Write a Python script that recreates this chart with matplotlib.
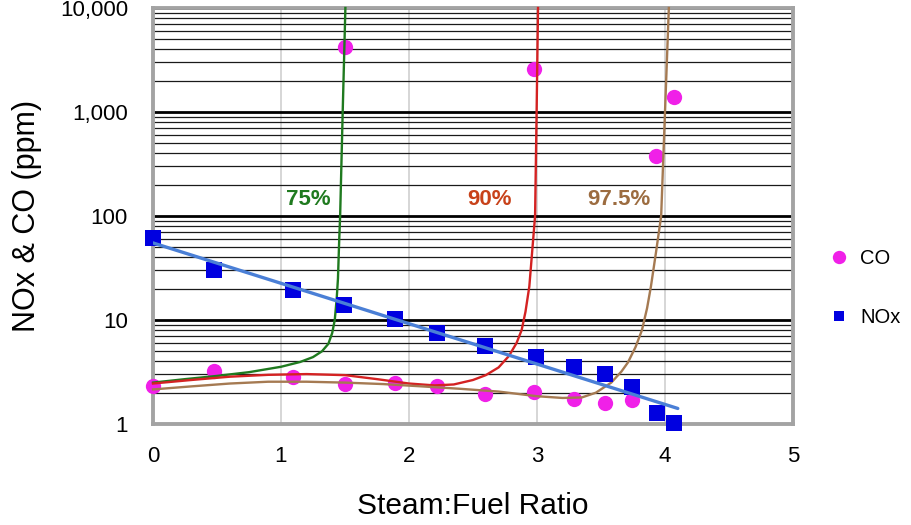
import numpy as np
import matplotlib
matplotlib.use("Agg")
import matplotlib.pyplot as plt
from matplotlib.lines import Line2D
from matplotlib.ticker import FixedLocator, NullFormatter, LogLocator

plt.rcParams['font.family'] = ['Liberation Sans', 'DejaVu Sans']

# ---- data ----
co_x = [0, 0.475, 1.09, 1.5, 1.5, 1.89, 2.22, 2.59, 2.98, 2.98, 3.29, 3.53, 3.74, 3.93, 4.07]
co_y = [2.3, 3.25, 2.85, 2.4, 4200, 2.5, 2.3, 1.95, 2.05, 2600, 1.75, 1.6, 1.7, 375, 1400]

nox_x = [0, 0.475, 1.09, 1.49, 1.89, 2.22, 2.59, 2.99, 3.29, 3.53, 3.74, 3.94, 4.07]
nox_y = [61, 30, 19.6, 14, 10.3, 7.5, 5.65, 4.4, 3.5, 3.0, 2.27, 1.28, 1.02]

c75_x = [0, 0.25, 0.5, 0.75, 1.0, 1.15, 1.25, 1.32, 1.37, 1.40, 1.42, 1.435, 1.445, 1.455, 1.462, 1.482, 1.503]
c75_y = [2.5, 2.7, 2.9, 3.15, 3.55, 3.95, 4.4, 5.0, 5.9, 7.5, 10, 16, 25, 60, 100, 1000, 10000]

c90_x = [0, 0.3, 0.6, 0.9, 1.2, 1.5, 1.75, 2.0, 2.2, 2.35, 2.5, 2.6, 2.7, 2.78, 2.84, 2.88, 2.91, 2.94, 2.965, 2.985, 2.997, 3.008]
c90_y = [2.45, 2.65, 2.85, 2.97, 3.02, 2.95, 2.7, 2.45, 2.35, 2.4, 2.65, 2.95, 3.5, 4.5, 6, 8, 12, 21, 50, 100, 1000, 10000]

c975_x = [0, 0.3, 0.6, 0.9, 1.2, 1.5, 1.8, 2.1, 2.4, 2.7, 3.0, 3.2, 3.35, 3.46, 3.58, 3.66, 3.71, 3.77, 3.82, 3.86, 3.89, 3.93, 3.97, 4.0, 4.03]
c975_y = [2.15, 2.3, 2.45, 2.55, 2.55, 2.5, 2.42, 2.3, 2.18, 2.05, 1.85, 1.78, 1.8, 2.0, 2.5, 3.2, 3.9, 5.5, 8, 13, 21, 45, 100, 1000, 10000]

curve_labels = ['75%', '90%', '97.5%']
label_x = [1.21, 2.63, 3.64]
label_y = [145, 145, 145]

x_ticks = [0, 1, 2, 3, 4, 5]
y_ticks = [1, 10, 100, 1000, 10000]
y_ticklabels = ['1', '10', '100', '1,000', '10,000']

# ---- figure ----
W, H = 911, 525
fig = plt.figure(figsize=(W / 100, H / 100), dpi=100)
L, R, T, B = 153, 793, 8, 424
ax = fig.add_axes([L / W, 1 - B / H, (R - L) / W, (B - T) / H])

ax.set_yscale('log')
ax.set_xlim(0, 5)
ax.set_ylim(1, 10000)

# grid
ax.yaxis.set_major_locator(FixedLocator(y_ticks))
ax.yaxis.set_minor_locator(LogLocator(base=10, subs=np.arange(2, 10)))
ax.yaxis.set_minor_formatter(NullFormatter())
ax.set_yticks(y_ticks)
ax.set_yticklabels(y_ticklabels)
ax.set_xticks(x_ticks)
ax.set_xticklabels([str(t) for t in x_ticks])
ax.grid(True, which='major', axis='y', color='black', linewidth=2.0, zorder=1)
ax.grid(True, which='minor', axis='y', color='#1a1a1a', linewidth=0.9, zorder=1)
ax.grid(True, which='major', axis='x', color='#cfcfcf', linewidth=1.2, zorder=1)
ax.set_axisbelow(True)

for s in ax.spines.values():
    s.set_color('#a3a3a3')
    s.set_linewidth(2.8)

ax.tick_params(axis='both', which='both', length=0)
ax.tick_params(axis='y', pad=18, labelsize=16)
ax.tick_params(axis='x', pad=16, labelsize=16)

# curves
ax.plot(c75_x, c75_y, color='#1f7a1f', lw=1.7, zorder=4, clip_on=False)
ax.plot(c90_x, c90_y, color='#d42222', lw=1.7, zorder=4, clip_on=False)
ax.plot(c975_x, c975_y, color='#a57a52', lw=1.7, zorder=4, clip_on=False)

# CO points
ax.plot(co_x, co_y, 'o', color='#f020e8', markersize=11, markeredgewidth=0, zorder=3, clip_on=False)
# NOx points
ax.plot(nox_x, nox_y, 's', color='#0000e0', markersize=11.5, markeredgewidth=0, zorder=5, clip_on=False)
# NOx exponential trend line
coef = np.polyfit(np.array(nox_x), np.log10(np.array(nox_y)), 1)
tx = np.array([0.0, 4.1])
ax.plot(tx, 10 ** np.polyval(coef, tx), color='#4a7fd6', lw=2.4, zorder=6, solid_capstyle='round')

# labels for curves
label_colors = ['#1f7a1f', '#c8421a', '#9c6c40']
for t, xx, yy, c in zip(curve_labels, label_x, label_y, label_colors):
    ax.text(xx, yy, t, color=c, fontsize=16, fontweight='bold', ha='center', va='center', zorder=7)

ax.set_xlabel('Steam:Fuel Ratio', fontsize=21.5, labelpad=18)
ax.set_ylabel('NOx & CO (ppm)', fontsize=22, labelpad=13)

handles = [
    Line2D([], [], marker='o', linestyle='none', color='#f020e8', markersize=9.6, markeredgewidth=0),
    Line2D([], [], marker='s', linestyle='none', color='#0000e0', markersize=7, markeredgewidth=0),
]
ax.legend(handles, ['CO', 'NOx'], loc='center left', bbox_to_anchor=(0.8924, 0.4514),
          bbox_transform=fig.transFigure, frameon=False, fontsize=14.5,
          handlelength=0.8, handletextpad=0.65, labelspacing=2.0)

fig.savefig('out.png', dpi=100)
